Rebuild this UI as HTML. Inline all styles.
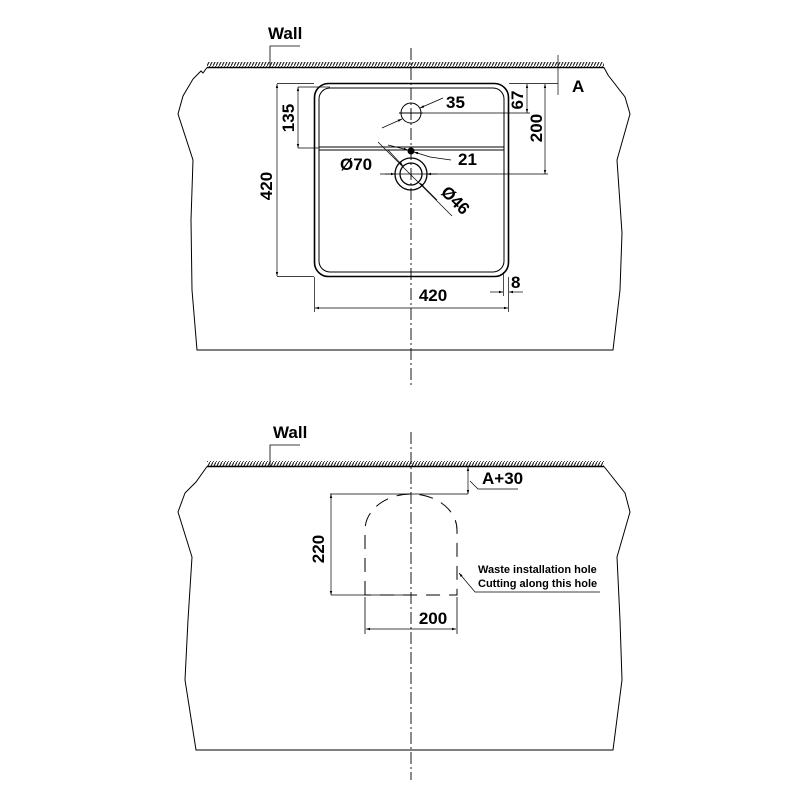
<!DOCTYPE html>
<html><head><meta charset="utf-8"><style>html,body{margin:0;padding:0;background:#fff}svg{display:block}</style></head>
<body>
<svg width="800" height="800" viewBox="0 0 800 800" xmlns="http://www.w3.org/2000/svg" font-family="Liberation Sans, sans-serif" font-weight="bold">
<defs>
<pattern id="h" width="3" height="6" patternUnits="userSpaceOnUse"><line x1="0" y1="6" x2="3" y2="0" stroke="#222" stroke-width="1.1"/></pattern>
<marker id="a" viewBox="0 0 10 10" refX="10" refY="5" markerWidth="6" markerHeight="6" orient="auto-start-reverse"><path d="M0,2 L10,5 L0,8z" fill="#000"/></marker>
</defs>
<g fill="none" stroke="#000" stroke-width="1">
<rect x="207" y="62" width="397" height="5" fill="url(#h)" stroke="none"/>
<line x1="207" y1="67.5" x2="604" y2="67.5" stroke-width="1.5"/>
<path d="M207,67.5 L203,73 L201,71 L193,79 L183,96 L178,114 L193,160 L191,220 L192,290 L197,350 L613,350 L620,290 L622,233 L617,160 L630,114 L625,97 L608,75 L604,67.5"/>
<line x1="411" y1="48" x2="411" y2="385" stroke-width="0.9" stroke-dasharray="12,3,2,3"/>
<rect x="314.5" y="83.5" width="194" height="193" rx="14" stroke-width="1.6"/>
<rect x="319" y="88" width="185" height="184" rx="11"/>
<line x1="319" y1="147" x2="504" y2="147"/>
<line x1="319" y1="150" x2="504" y2="150"/>
<circle cx="411" cy="113" r="10"/>
<line x1="399" y1="113" x2="423" y2="113"/>
<circle cx="411" cy="174" r="16" stroke-width="1.3"/>
<circle cx="411" cy="174" r="11" stroke-width="1.3"/>
<circle cx="411" cy="151" r="3" fill="#000"/>
<line x1="277" y1="83.5" x2="314" y2="83.5" stroke-width="0.7"/>
<line x1="277" y1="276.5" x2="314" y2="276.5" stroke-width="0.7"/>
<line x1="277" y1="84" x2="277" y2="276" stroke-width="0.7" marker-start="url(#a)" marker-end="url(#a)"/>
<line x1="298" y1="87" x2="330" y2="87" stroke-width="0.7"/>
<line x1="298" y1="148" x2="319" y2="148" stroke-width="0.7"/>
<line x1="298" y1="87" x2="298" y2="148" stroke-width="0.7" marker-start="url(#a)" marker-end="url(#a)"/>
<line x1="558" y1="55" x2="558" y2="95" stroke-width="0.7"/>
<line x1="509" y1="83.5" x2="558" y2="83.5" stroke-width="0.7"/>
<line x1="411" y1="113" x2="530" y2="113" stroke-width="0.7"/>
<line x1="527" y1="84" x2="527" y2="113" stroke-width="0.7" marker-start="url(#a)" marker-end="url(#a)"/>
<line x1="380" y1="174" x2="548" y2="174" stroke-width="0.7"/>
<line x1="545" y1="84" x2="545" y2="174" stroke-width="0.7" marker-start="url(#a)" marker-end="url(#a)"/>
<line x1="382" y1="128" x2="402" y2="119" stroke-width="0.7" marker-end="url(#a)"/>
<line x1="443" y1="98" x2="420" y2="108" stroke-width="0.7" marker-end="url(#a)"/>
<line x1="388" y1="145" x2="408" y2="150" stroke-width="0.7" marker-end="url(#a)"/>
<line x1="451" y1="160" x2="430" y2="157" stroke-width="0.7"/>
<line x1="430" y1="157" x2="414" y2="152" stroke-width="0.7" marker-end="url(#a)"/>
<line x1="385" y1="174" x2="395" y2="174" stroke-width="0.7" marker-end="url(#a)"/>
<line x1="437" y1="174" x2="427" y2="174" stroke-width="0.7" marker-end="url(#a)"/>
<line x1="378" y1="142" x2="452" y2="216" stroke-width="0.7"/>
<line x1="388" y1="150" x2="403" y2="166" stroke-width="0.7" marker-end="url(#a)"/>
<line x1="437" y1="200" x2="420" y2="183" stroke-width="0.7" marker-end="url(#a)"/>
<line x1="314.5" y1="277" x2="314.5" y2="312" stroke-width="0.7"/>
<line x1="508.5" y1="277" x2="508.5" y2="312" stroke-width="0.7"/>
<line x1="315" y1="308" x2="508" y2="308" stroke-width="0.7" marker-start="url(#a)" marker-end="url(#a)"/>
<line x1="503.5" y1="272" x2="503.5" y2="296" stroke-width="0.7"/>
<line x1="490" y1="292" x2="503" y2="292" stroke-width="0.7" marker-end="url(#a)"/>
<line x1="523" y1="292" x2="509" y2="292" stroke-width="0.7" marker-end="url(#a)"/>
<polyline points="270,67 270,46 300,46" stroke-width="0.8"/>

<rect x="207" y="461" width="397" height="5" fill="url(#h)" stroke="none"/>
<line x1="207" y1="466.5" x2="604" y2="466.5" stroke-width="1.5"/>
<path d="M207,466.5 L196,482 L185,493 L178,512 L192,557 L188,620 L185,680 L196,750 L613,750 L622,680 L620,620 L617,557 L630,512 L625,493 L604,466.5"/>
<line x1="411" y1="432" x2="411" y2="780" stroke-width="0.9" stroke-dasharray="12,3,2,3"/>
<polyline points="270,466 270,445 300,445" stroke-width="0.8"/>
<path d="M365,595 L365,530 A46,36 0 0 1 457,530 L457,595 Z" stroke-dasharray="14,9"/>
<line x1="330" y1="494" x2="468" y2="494" stroke-width="0.8"/>
<line x1="468" y1="467" x2="468" y2="494" stroke-width="0.7" marker-start="url(#a)" marker-end="url(#a)"/>
<polyline points="470,481 478,489 518,489" stroke-width="0.7"/>
<line x1="331" y1="595" x2="411" y2="595" stroke-width="0.8"/>
<line x1="331" y1="494" x2="331" y2="595" stroke-width="0.7" marker-start="url(#a)" marker-end="url(#a)"/>
<line x1="365" y1="597" x2="365" y2="634" stroke-width="0.8"/>
<line x1="457" y1="597" x2="457" y2="634" stroke-width="0.8"/>
<line x1="366" y1="629" x2="456" y2="629" stroke-width="0.7" marker-start="url(#a)" marker-end="url(#a)"/>
<polyline points="600,592 475,592 459,573" stroke-width="0.7" marker-end="url(#a)"/>
</g>
<g fill="#000">
<text x="268" y="39" font-size="17">Wall</text>
<text x="572" y="92" font-size="17">A</text>
<text x="446" y="108" font-size="17">35</text>
<text x="458" y="165" font-size="17">21</text>
<text x="340" y="170" font-size="17">Ø70</text>
<text x="440" y="193" font-size="17" transform="rotate(45 440 193)">Ø46</text>
<text x="294" y="118" font-size="17" transform="rotate(-90 294 118)" text-anchor="middle">135</text>
<text x="272" y="186" font-size="17" transform="rotate(-90 272 186)" text-anchor="middle">420</text>
<text x="523" y="100" font-size="17" transform="rotate(-90 523 100)" text-anchor="middle">67</text>
<text x="542" y="128" font-size="17" transform="rotate(-90 542 128)" text-anchor="middle">200</text>
<text x="433" y="301" font-size="17" text-anchor="middle">420</text>
<text x="511" y="288" font-size="17">8</text>
<text x="273" y="438" font-size="17">Wall</text>
<text x="482" y="484" font-size="17">A+30</text>
<text x="324" y="549" font-size="17" transform="rotate(-90 324 549)" text-anchor="middle">220</text>
<text x="433" y="624" font-size="17" text-anchor="middle">200</text>
<text x="478" y="573" font-size="11">Waste installation hole</text>
<text x="478" y="587" font-size="11">Cutting along this hole</text>
</g>
</svg>
</body></html>
